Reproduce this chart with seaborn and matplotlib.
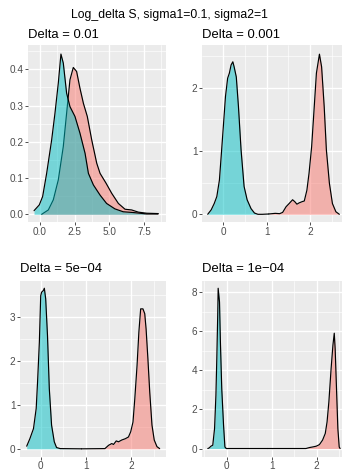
import matplotlib
matplotlib.use("Agg")
import matplotlib.pyplot as plt
import seaborn as sns
import numpy as np

# ---------------- data ----------------
main_title = "Log_delta S, sigma1=0.1, sigma2=1"
panel_titles = ["Delta = 0.01", "Delta = 0.001", "Delta = 5e\u221204", "Delta = 1e\u221204"]

# Panel 1 (Delta = 0.01)
p1_red_x = [0.12, 0.6, 0.96, 1.32, 1.68, 1.92, 2.16, 2.4, 2.64, 2.88, 3.13, 3.41, 3.73, 4.09, 4.33, 4.76, 5.17, 5.65, 6.13, 6.61, 7.09, 7.69, 8.53]
p1_red_y = [0.0, 0.012, 0.04, 0.095, 0.187, 0.279, 0.371, 0.405, 0.394, 0.348, 0.306, 0.27, 0.205, 0.141, 0.113, 0.086, 0.058, 0.03, 0.014, 0.012, 0.006, 0.003, 0.002]
p1_cyan_x = [-0.43, -0.05, 0.19, 0.48, 0.84, 1.08, 1.32, 1.51, 1.68, 1.92, 2.16, 2.52, 2.88, 3.25, 3.49, 3.85, 4.33, 4.8, 5.4, 6.0, 6.7, 7.7, 8.5]
p1_cyan_y = [0.01, 0.026, 0.049, 0.113, 0.205, 0.279, 0.362, 0.442, 0.417, 0.334, 0.297, 0.27, 0.224, 0.168, 0.113, 0.081, 0.053, 0.03, 0.015, 0.007, 0.005, 0.001, 0.001]

# Panel 2 (Delta = 0.001)
p2_red_x = [1.05, 1.2, 1.3, 1.37, 1.45, 1.52, 1.6, 1.65, 1.7, 1.75, 1.82, 1.87, 1.93, 1.98, 2.04, 2.1, 2.15, 2.22, 2.27, 2.33, 2.38, 2.45, 2.52, 2.6, 2.68]
p2_red_y = [0.005, 0.015, 0.01, 0.03, 0.12, 0.17, 0.23, 0.2, 0.16, 0.18, 0.2, 0.21, 0.38, 0.65, 1.07, 1.7, 2.23, 2.53, 2.33, 1.7, 1.02, 0.49, 0.17, 0.04, 0.0]
p2_cyan_x = [-0.36, -0.28, -0.21, -0.15, -0.09, -0.05, 0.0, 0.05, 0.1, 0.14, 0.18, 0.22, 0.25, 0.3, 0.35, 0.41, 0.48, 0.55, 0.64, 0.72, 0.8, 0.9, 1.05]
p2_cyan_y = [0.0, 0.07, 0.17, 0.28, 0.54, 0.91, 1.38, 1.86, 2.15, 2.23, 2.36, 2.41, 2.33, 2.17, 1.7, 1.02, 0.44, 0.23, 0.09, 0.02, 0.0, 0.0, 0.005]

# Panel 3 (Delta = 5e-04)
p3_red_x = [0.9, 1.42, 1.5, 1.57, 1.61, 1.67, 1.72, 1.79, 1.87, 1.94, 1.99, 2.04, 2.08, 2.13, 2.17, 2.21, 2.26, 2.3, 2.33, 2.37, 2.41, 2.46, 2.51, 2.57, 2.63]
p3_red_y = [0.0, 0.005, 0.08, 0.12, 0.1, 0.18, 0.16, 0.2, 0.23, 0.27, 0.39, 0.61, 1.14, 1.9, 2.66, 3.19, 3.19, 3.08, 2.73, 2.05, 1.3, 0.54, 0.2, 0.05, 0.005]
p3_cyan_x = [-0.31, -0.24, -0.16, -0.1, -0.07, -0.03, 0.0, 0.02, 0.06, 0.08, 0.11, 0.15, 0.19, 0.24, 0.3, 0.35, 0.43, 0.9]
p3_cyan_y = [0.06, 0.23, 0.46, 0.92, 1.52, 2.43, 3.49, 3.57, 3.61, 3.66, 3.42, 2.58, 1.37, 0.54, 0.16, 0.03, 0.005, 0.0]

# Panel 4 (Delta = 1e-04)
p4_red_x = [0.9, 1.76, 1.84, 1.91, 1.99, 2.06, 2.13, 2.19, 2.23, 2.27, 2.32, 2.36, 2.39, 2.41, 2.44, 2.47, 2.5, 2.52]
p4_red_y = [0.0, 0.0, 0.05, 0.08, 0.12, 0.2, 0.43, 0.77, 1.36, 2.38, 4.09, 5.28, 5.9, 5.1, 3.06, 1.02, 0.08, 0.0]
p4_cyan_x = [-0.42, -0.39, -0.35, -0.31, -0.27, -0.24, -0.22, -0.2, -0.19, -0.16, -0.14, -0.11, -0.07, -0.04, -0.01, 0.9]
p4_cyan_y = [0.0, 0.03, 0.12, 0.17, 1.02, 2.72, 4.6, 6.8, 8.2, 7.5, 5.45, 3.06, 1.19, 0.08, 0.0, 0.0]

# tick labels
p1_xticks = [0.0, 2.5, 5.0, 7.5]
p1_xlabels = ["0.0", "2.5", "5.0", "7.5"]
p1_yticks = [0.0, 0.1, 0.2, 0.3, 0.4]
p1_ylabels = ["0.0", "0.1", "0.2", "0.3", "0.4"]
p2_xticks = [0, 1, 2]
p2_yticks = [0, 1, 2]
p3_xticks = [0, 1, 2]
p3_yticks = [0, 1, 2, 3]
p4_xticks = [0, 1, 2]
p4_yticks = [0, 2, 4, 6, 8]

RED = "#F8766D"
CYAN = "#00BFC4"

# ---------------- layout ----------------
W, H = 342, 470
sns.set_theme(style="darkgrid")
plt.rcParams['font.family'] = ['Liberation Sans', 'DejaVu Sans']

fig = plt.figure(figsize=(W / 100, H / 100), dpi=100)
fig.patch.set_facecolor("white")


def add_ax(l, r, t, b):
    return fig.add_axes([l / W, 1 - b / H, (r - l) / W, (b - t) / H])


panels = [
    dict(box=(28, 166, 45, 222.5), xlim=(-0.865, 9.085), ylim=(-0.0226, 0.467),
         red=(p1_red_x, p1_red_y), cyan=(p1_cyan_x, p1_cyan_y),
         xt=p1_xticks, xl=p1_xlabels, yt=p1_yticks, yl=p1_ylabels,
         xminor=[1.25, 3.75, 6.25, 8.75], yminor=[0.05, 0.15, 0.25, 0.35, 0.45]),
    dict(box=(202, 342, 45, 222.5), xlim=(-0.492, 2.741), ylim=(-0.1295, 2.675),
         red=(p2_red_x, p2_red_y), cyan=(p2_cyan_x, p2_cyan_y),
         xt=p2_xticks, xl=[str(v) for v in p2_xticks], yt=p2_yticks, yl=[str(v) for v in p2_yticks],
         xminor=[0.5, 1.5, 2.5], yminor=[0.5, 1.5, 2.5]),
    dict(box=(20, 166, 281, 456.5), xlim=(-0.458, 2.77), ylim=(-0.175, 3.825),
         red=(p3_red_x, p3_red_y), cyan=(p3_cyan_x, p3_cyan_y),
         xt=p3_xticks, xl=[str(v) for v in p3_xticks], yt=p3_yticks, yl=[str(v) for v in p3_yticks],
         xminor=[0.5, 1.5, 2.5], yminor=[0.5, 1.5, 2.5, 3.5]),
    dict(box=(202, 342, 281, 456.5), xlim=(-0.549, 2.562), ylim=(-0.408, 8.571),
         red=(p4_red_x, p4_red_y), cyan=(p4_cyan_x, p4_cyan_y),
         xt=p4_xticks, xl=[str(v) for v in p4_xticks], yt=p4_yticks, yl=[str(v) for v in p4_yticks],
         xminor=[-0.5, 0.5, 1.5, 2.5], yminor=[1, 3, 5, 7]),
]

for p in panels:
    ax = add_ax(*p["box"])
    ax.set_facecolor("#EBEBEB")
    for s in ax.spines.values():
        s.set_visible(False)
    ax.grid(False)
    # minor and major grid lines
    for v in p["xminor"]:
        ax.axvline(v, color="white", lw=0.45, zorder=0)
    for v in p["yminor"]:
        ax.axhline(v, color="white", lw=0.45, zorder=0)
    for v in p["xt"]:
        ax.axvline(v, color="white", lw=0.95, zorder=0)
    for v in p["yt"]:
        ax.axhline(v, color="white", lw=0.95, zorder=0)

    for (xs, ys), col, z in [(p["red"], RED, 2), (p["cyan"], CYAN, 4)]:
        ax.fill_between(xs, 0, ys, color=col, alpha=0.5, lw=0, zorder=z)
        sns.lineplot(x=xs, y=ys, ax=ax, color="black", lw=0.85,
                     estimator=None, sort=False, zorder=z + 1)

    ax.set_xlim(*p["xlim"])
    ax.set_ylim(*p["ylim"])
    ax.set_xticks(p["xt"])
    ax.set_xticklabels(p["xl"])
    ax.set_yticks(p["yt"])
    ax.set_yticklabels(p["yl"])
    ax.set_xlabel("")
    ax.set_ylabel("")
    ax.tick_params(axis="both", which="major", length=2.2, width=0.6, color="#333333",
                   labelsize=7.2, labelcolor="#4D4D4D", pad=1.0, bottom=True, left=True)
    ax.tick_params(which="minor", length=0)

# titles
fig.text(169.5 / W, 1 - 18 / H, main_title, ha="center", va="baseline", fontsize=8.8, color="black")
title_pos = [(28, 37.7), (201.7, 37.7), (20.5, 272), (202, 272)]
for (x, y), t in zip(title_pos, panel_titles):
    fig.text(x / W, 1 - y / H, t, ha="left", va="baseline", fontsize=9.4, color="black")

fig.savefig("out.png", dpi=100, facecolor="white")
